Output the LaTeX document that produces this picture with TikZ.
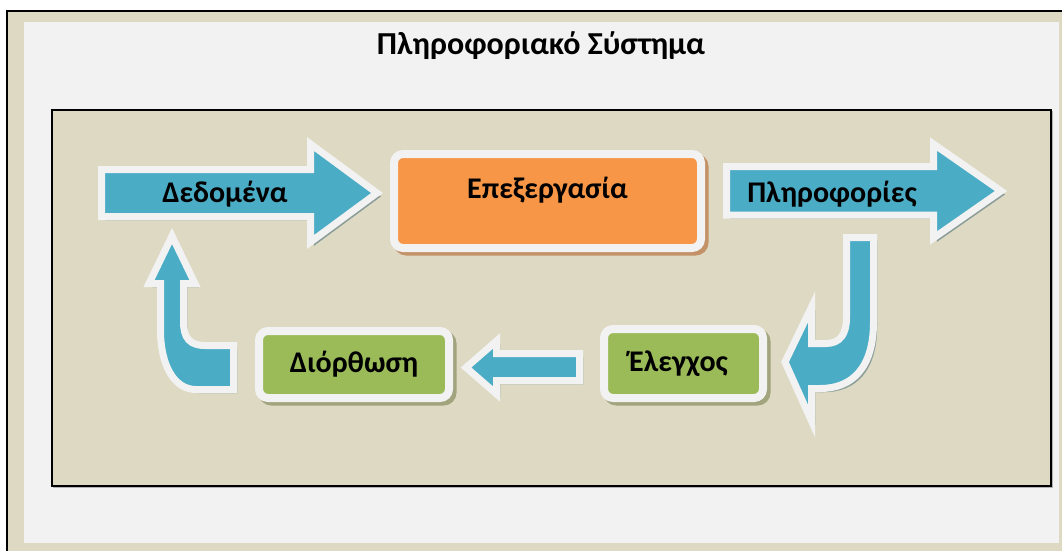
\documentclass[tikz,border=0pt]{standalone}
\usepackage{fontspec}
\setmainfont{Carlito}
\usetikzlibrary{arrows.meta, positioning}

\definecolor{tanbg}{HTML}{DDD9C3}
\definecolor{palegray}{HTML}{F2F2F2}
\definecolor{aqua}{HTML}{4BACC6}
\definecolor{aquashade}{HTML}{8A9C98}
\definecolor{orangefill}{HTML}{F79646}
\definecolor{orangeshade}{HTML}{C39268}
\definecolor{olive}{HTML}{9BBB59}
\definecolor{oliveshade}{HTML}{A2A47E}

\begin{document}
\begin{tikzpicture}[x=1pt, y=-1pt,
    lbl/.style={font=\bfseries\fontsize{30}{34}\selectfont, inner sep=0pt},
    shade/.style={preaction={draw=#1, fill=#1, transform canvas={shift={(3.5pt,-3.5pt)}}}},
    blockarrow/.style={fill=aqua, draw=palegray, line width=7pt, line join=miter, shade=aquashade},
    stepbox/.style={rectangle, rounded corners=9pt, draw=palegray, line width=8pt, lbl},
    procbox/.style={stepbox, fill=orangefill, shade=orangeshade},
    checkbox/.style={stepbox, fill=olive, shade=oliveshade}]
				\clip (0,0) rectangle (1062,550);
				\fill[white] (0,0) rectangle (1062,550);

				% frame of the page
				\draw[fill=tanbg, line width=1.5pt] (7,11) rectangle (1075,565);
				\fill[palegray] (24,22) rectangle (1059,543);
				\node[lbl, font=\bfseries\fontsize{32}{36}\selectfont] (title) at (541,46) {Πληροφοριακό Σύστημα};

				% inner panel
				\draw[fill=tanbg, line width=1.5pt, preaction={draw=gray!60, transform canvas={shift={(1.5pt,-1.5pt)}}}]
				(52,110) rectangle (1051,486);

				% straight arrows
				\draw[blockarrow] (101.5,169.5) -- (310.5,169.5) -- (310.5,144) -- (377,193)
				-- (310.5,242) -- (310.5,216.5) -- (101.5,216.5) -- cycle;
				\node[lbl] (data) at (225,194) {Δεδομένα};

				\draw[blockarrow] (726.5,166.5) -- (933.5,166.5) -- (933.5,144) -- (1001,191)
				-- (933.5,238) -- (933.5,215) -- (726.5,215) -- cycle;
				\node[lbl] (info) at (832,194) {Πληροφορίες};

				\draw[blockarrow] (579.5,353.5) -- (496.5,353.5) -- (496.5,341) -- (466,367.5)
				-- (496.5,394) -- (496.5,380.5) -- (579.5,380.5) -- cycle;

				% bent arrows
				\draw[blockarrow] (846.5,237.5) -- (873.5,237.5) -- (873.5,322)
				.. controls (873.5,368) and (852,388.5) .. (820,388.5) -- (811.5,388.5)
				-- (811.5,421) -- (785,362) -- (811.5,307) -- (811.5,343.5) -- (826,343.5)
				.. controls (840,343.5) and (846.5,334) .. (846.5,318) -- cycle;

				\draw[blockarrow] (172,236) -- (195,283.5) -- (183.5,283.5) -- (183.5,322)
				.. controls (183.5,338) and (190,345.5) .. (205,345.5) -- (233.5,345.5)
				-- (233.5,389.5) -- (196,389.5)
				.. controls (174,389.5) and (160.5,365) .. (160.5,330) -- (160.5,283.5)
				-- (149,283.5) -- cycle;

				% boxes
				\node[procbox, minimum width=307, minimum height=94,
				label={[lbl, yshift=11pt]center:Επεξεργασία}] (proc) at (547.5,201) {};
				\node[checkbox, minimum width=159, minimum height=69,
				label={[lbl, xshift=-5pt]center:Έλεγχος}] (check) at (683.5,363.5) {};
				\node[checkbox, minimum width=190, minimum height=67] (fix) at (354,364.5) {Διόρθωση};
			\end{tikzpicture}
\end{document}
